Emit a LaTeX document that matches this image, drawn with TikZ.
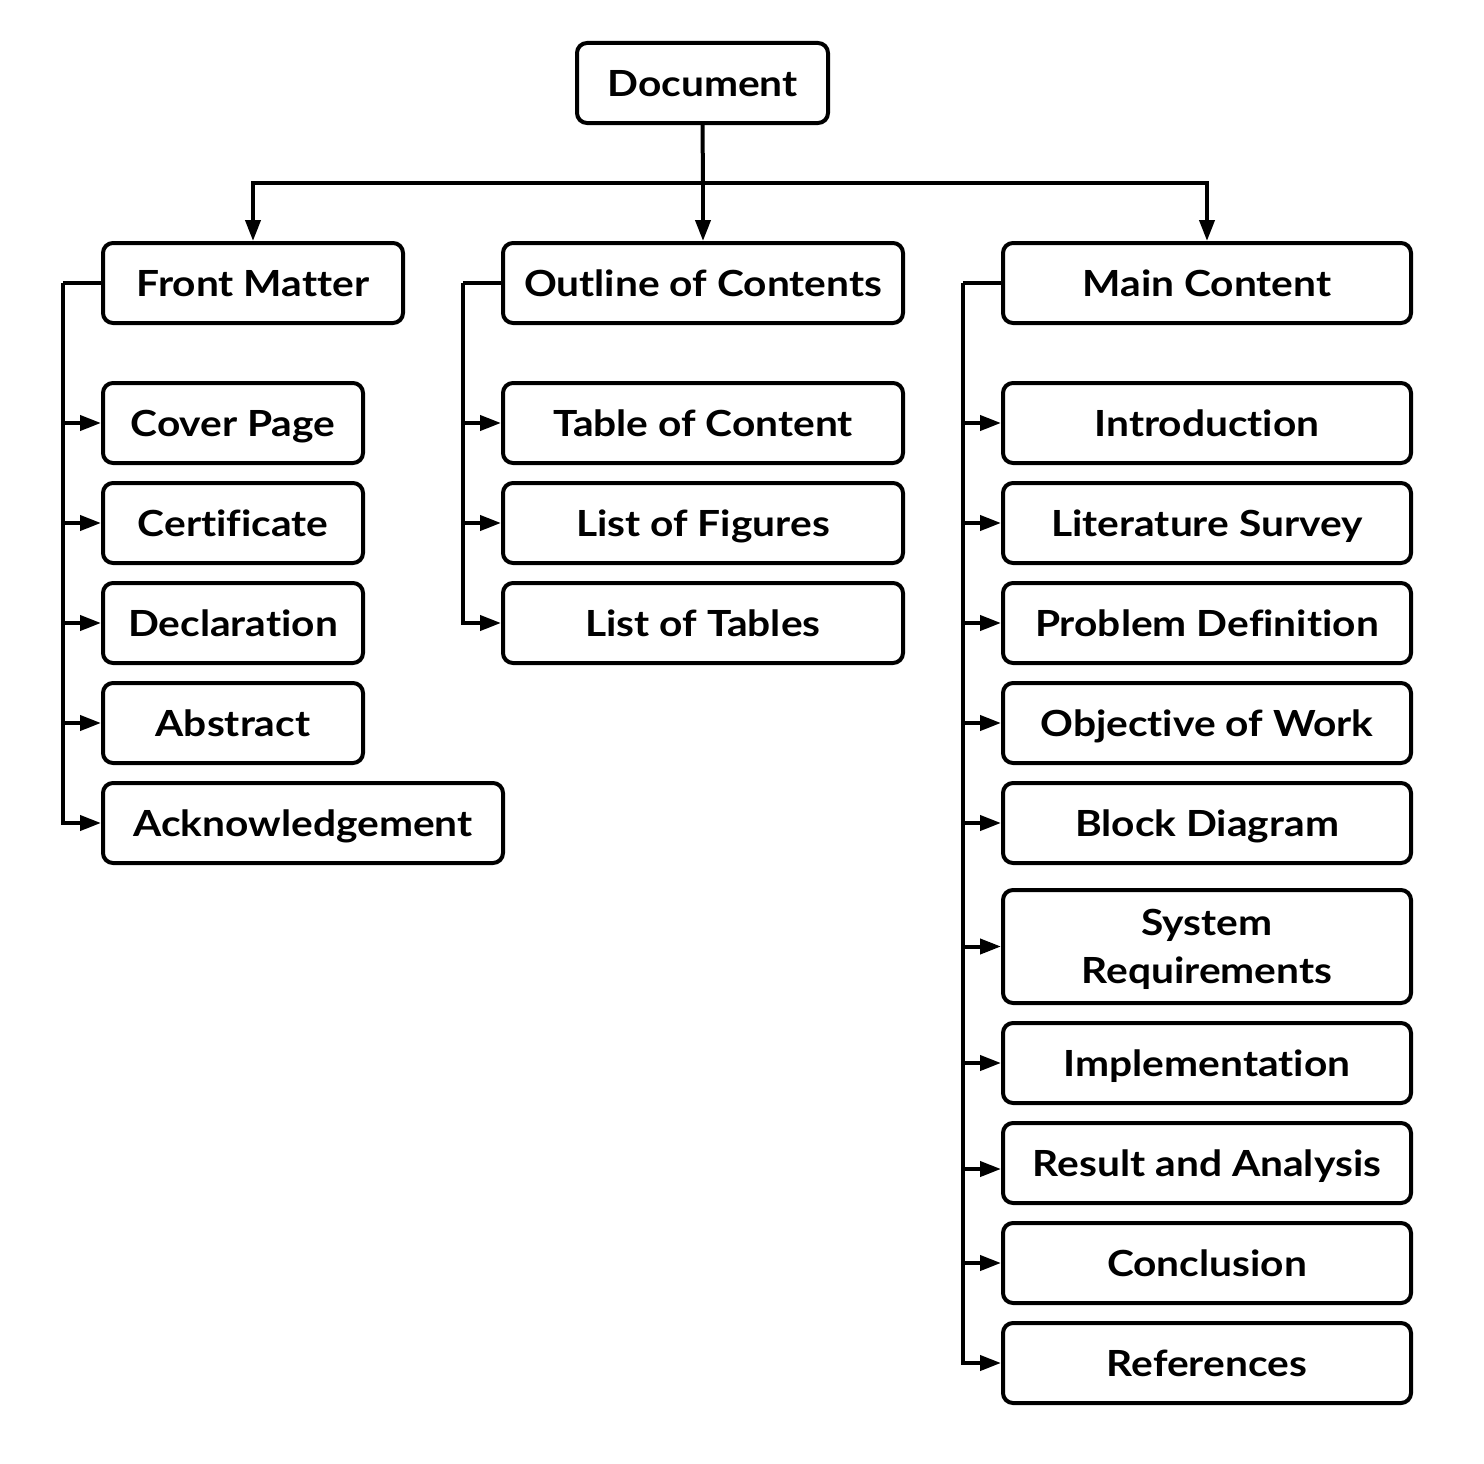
\documentclass[tikz,border=0pt]{standalone}
\usepackage{fontspec}
\setmainfont{Lato}[UprightFont=* Bold,FakeStretch=1.13,Ligatures={NoCommon,NoRare,NoContextual}]
\usetikzlibrary{arrows.meta,positioning}
\begin{document}
\begin{tikzpicture}[x=1pt,y=-1pt,
  box/.style={draw=black,line width=4pt,rounded corners=10pt,minimum height=80pt,inner sep=0pt,align=center,text height=26pt,text depth=0pt,font=\fontsize{36}{48}\selectfont},
  conn/.style={line width=4pt},
  arr/.style={conn,-{Triangle[length=21pt,width=15pt]}}]
\useasboundingbox (0,0) rectangle (1484,1464);
% root
\node[box,minimum width=251pt] (doc) at (702.5,83) {Document};
% level 1
\node[box,minimum width=300pt] (fm) at (253,283) {Front Matter};
\node[box,minimum width=400pt] (oc) at (703,283) {Outline of Contents};
\node[box,minimum width=408pt] (mc) at (1207,283) {Main Content};
% front matter children
\node[box,minimum width=260pt] (cover) at (233,423) {Cover Page};
\node[box,minimum width=260pt] (cert) at (233,523) {Certificate};
\node[box,minimum width=260pt] (decl) at (233,623) {Declaration};
\node[box,minimum width=260pt] (abs) at (233,723) {Abstract};
\node[box,minimum width=400pt] (ack) at (303,823) {Acknowledgement};
% outline children
\node[box,minimum width=400pt] (toc) at (703,423) {Table of Content};
\node[box,minimum width=400pt] (lof) at (703,523) {List of Figures};
\node[box,minimum width=400pt] (lot) at (703,623) {List of Tables};
% main children
\node[box,minimum width=408pt] (intro) at (1207,423) {Introduction};
\node[box,minimum width=408pt] (lit) at (1207,523) {Literature Survey};
\node[box,minimum width=408pt] (prob) at (1207,623) {Problem Definition};
\node[box,minimum width=408pt] (obj) at (1207,723) {Objective of Work};
\node[box,minimum width=408pt] (blk) at (1207,823) {Block Diagram};
\node[box,minimum width=408pt,minimum height=113pt,text height=74pt] (sys) at (1207,946.5) {System\\Requirements};
\node[box,minimum width=408pt] (impl) at (1207,1063) {Implementation};
\node[box,minimum width=408pt] (res) at (1207,1163) {Result and Analysis};
\node[box,minimum width=408pt] (conc) at (1207,1263) {Conclusion};
\node[box,minimum width=408pt] (refs) at (1207,1363) {References};
% root connectors
\coordinate (bus) at (703,183);
\draw[conn] (doc.south) -- (bus);
\draw[arr] (bus) -| (fm.north);
\draw[arr] (bus) -- (oc.north);
\draw[arr] (bus) -| (mc.north);
% front matter
\coordinate (fmL) at (63,283);
\draw[conn] (fm.west) -- (fmL);
\draw[arr] (fmL) |- (ack.west);
\foreach \n in {cover,cert,decl,abs} \draw[arr] (fmL |- \n.west) -- (\n.west);
% outline
\coordinate (ocL) at (463,283);
\draw[conn] (oc.west) -- (ocL);
\draw[arr] (ocL) |- (lot.west);
\foreach \n in {toc,lof} \draw[arr] (ocL |- \n.west) -- (\n.west);
% main
\coordinate (mcL) at (963,283);
\draw[conn] (mc.west) -- (mcL);
\draw[arr] (mcL) |- (refs.west);
\foreach \n in {intro,lit,prob,obj,blk,sys,impl,conc} \draw[arr] (mcL |- \n.west) -- (\n.west);
\coordinate (resIn) at ([yshift=-6pt]res.west);
\draw[arr] (mcL |- resIn) -- (resIn);
\end{tikzpicture}
\end{document}
